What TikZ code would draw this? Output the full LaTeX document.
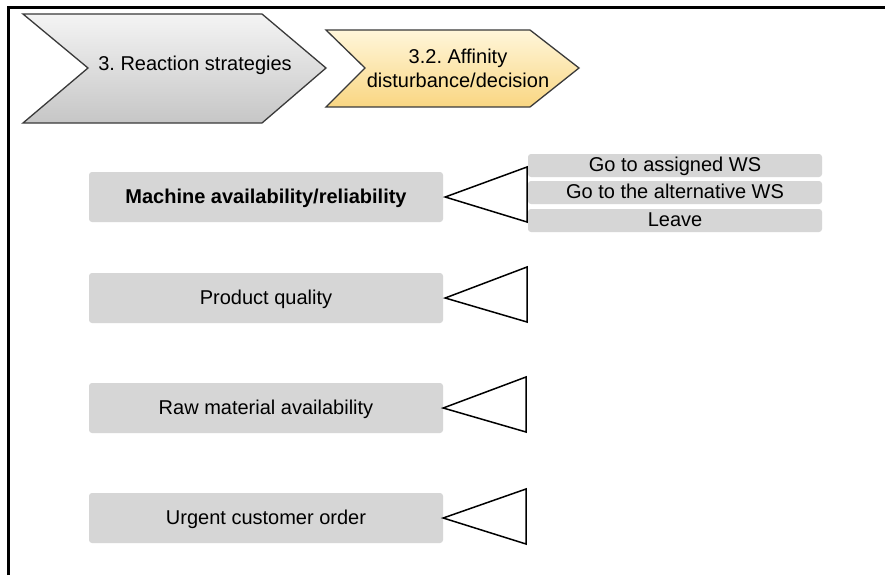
\documentclass[tikz,border=0pt]{standalone}
\usepackage{fontspec}
\setmainfont{Liberation Sans}
\frenchspacing
\begin{document}
\begin{tikzpicture}[x=1pt,y=-1pt,
  lbox/.style={fill=boxgray, rounded corners=3pt, minimum width=354pt, minimum height=50pt, inner sep=0pt, text height=14.5pt, text depth=2.5pt, font=\fontsize{20}{24}\selectfont},
  rbox/.style={fill=boxgray, rounded corners=3pt, minimum width=294pt, minimum height=23pt, inner sep=0pt, text height=14.5pt, text depth=2.5pt, font=\fontsize{20}{24}\selectfont},
  tri/.style={draw=black, line width=1.5pt, line join=miter, fill=white},
  chev/.style={draw=chevline, line width=1.3pt, line join=miter},
  ctext/.style={font=\fontsize{20}{24}\selectfont, align=center, inner sep=0pt}
]
\definecolor{boxgray}{HTML}{D6D6D6}
\definecolor{chevline}{HTML}{3A3A3A}
\definecolor{grtop}{HTML}{F4F4F4}
\definecolor{grbot}{HTML}{C6C6C6}
\definecolor{yetop}{HTML}{FFF6DA}
\definecolor{yebot}{HTML}{F9D682}
\useasboundingbox (0,0) rectangle (885,575);
\fill[white] (0,0) rectangle (885,575);
% frame
\draw[line width=3pt] (8,575) -- (8,8) -- (885,8);
% chevrons
\shade[top color=grtop, bottom color=grbot] (23,14) -- (262,14) -- (326,68) -- (262,123) -- (23,123) -- (88,68) -- cycle;
\draw[chev] (23,14) -- (262,14) -- (326,68) -- (262,123) -- (23,123) -- (88,68) -- cycle;
\node[ctext] (c1) at (195,65) {3. Reaction strategies};
\shade[top color=yetop, bottom color=yebot] (326,30) -- (530,30) -- (579,68) -- (530,107) -- (326,107) -- (365,68) -- cycle;
\draw[chev] (326,30) -- (530,30) -- (579,68) -- (530,107) -- (326,107) -- (365,68) -- cycle;
\node[ctext] (c2) at (458,68) {3.2. Affinity\\disturbance/decision};
% left boxes
\node[lbox] (m1) at (266,197) {\bfseries Machine availability/reliability};
\node[lbox] (m2) at (266,298) {Product quality};
\node[lbox] (m3) at (266,408) {Raw material availability};
\node[lbox] (m4) at (266,518) {Urgent customer order};
% right boxes
\node[rbox] (r1) at (675,165.5) {Go to assigned WS};
\node[rbox] (r2) at (675,192.5) {Go to the alternative WS};
\node[rbox] (r3) at (675,220.5) {Leave};
% triangles
\coordinate (t1a) at (527,167);
\coordinate (t1b) at (527,222);
\draw[tri] ([xshift=2pt]m1.east) -- (t1a) -- (t1b) -- cycle;
\coordinate (t2a) at (527,267);
\coordinate (t2b) at (527,322);
\draw[tri] ([xshift=2pt]m2.east) -- (t2a) -- (t2b) -- cycle;
\coordinate (t3a) at (526,377);
\coordinate (t3b) at (526,432);
\draw[tri] ([xshift=0pt]m3.east) -- (t3a) -- (t3b) -- cycle;
\coordinate (t4a) at (526,489);
\coordinate (t4b) at (526,544);
\draw[tri] ([xshift=0pt]m4.east) -- (t4a) -- (t4b) -- cycle;
\end{tikzpicture}
\end{document}
